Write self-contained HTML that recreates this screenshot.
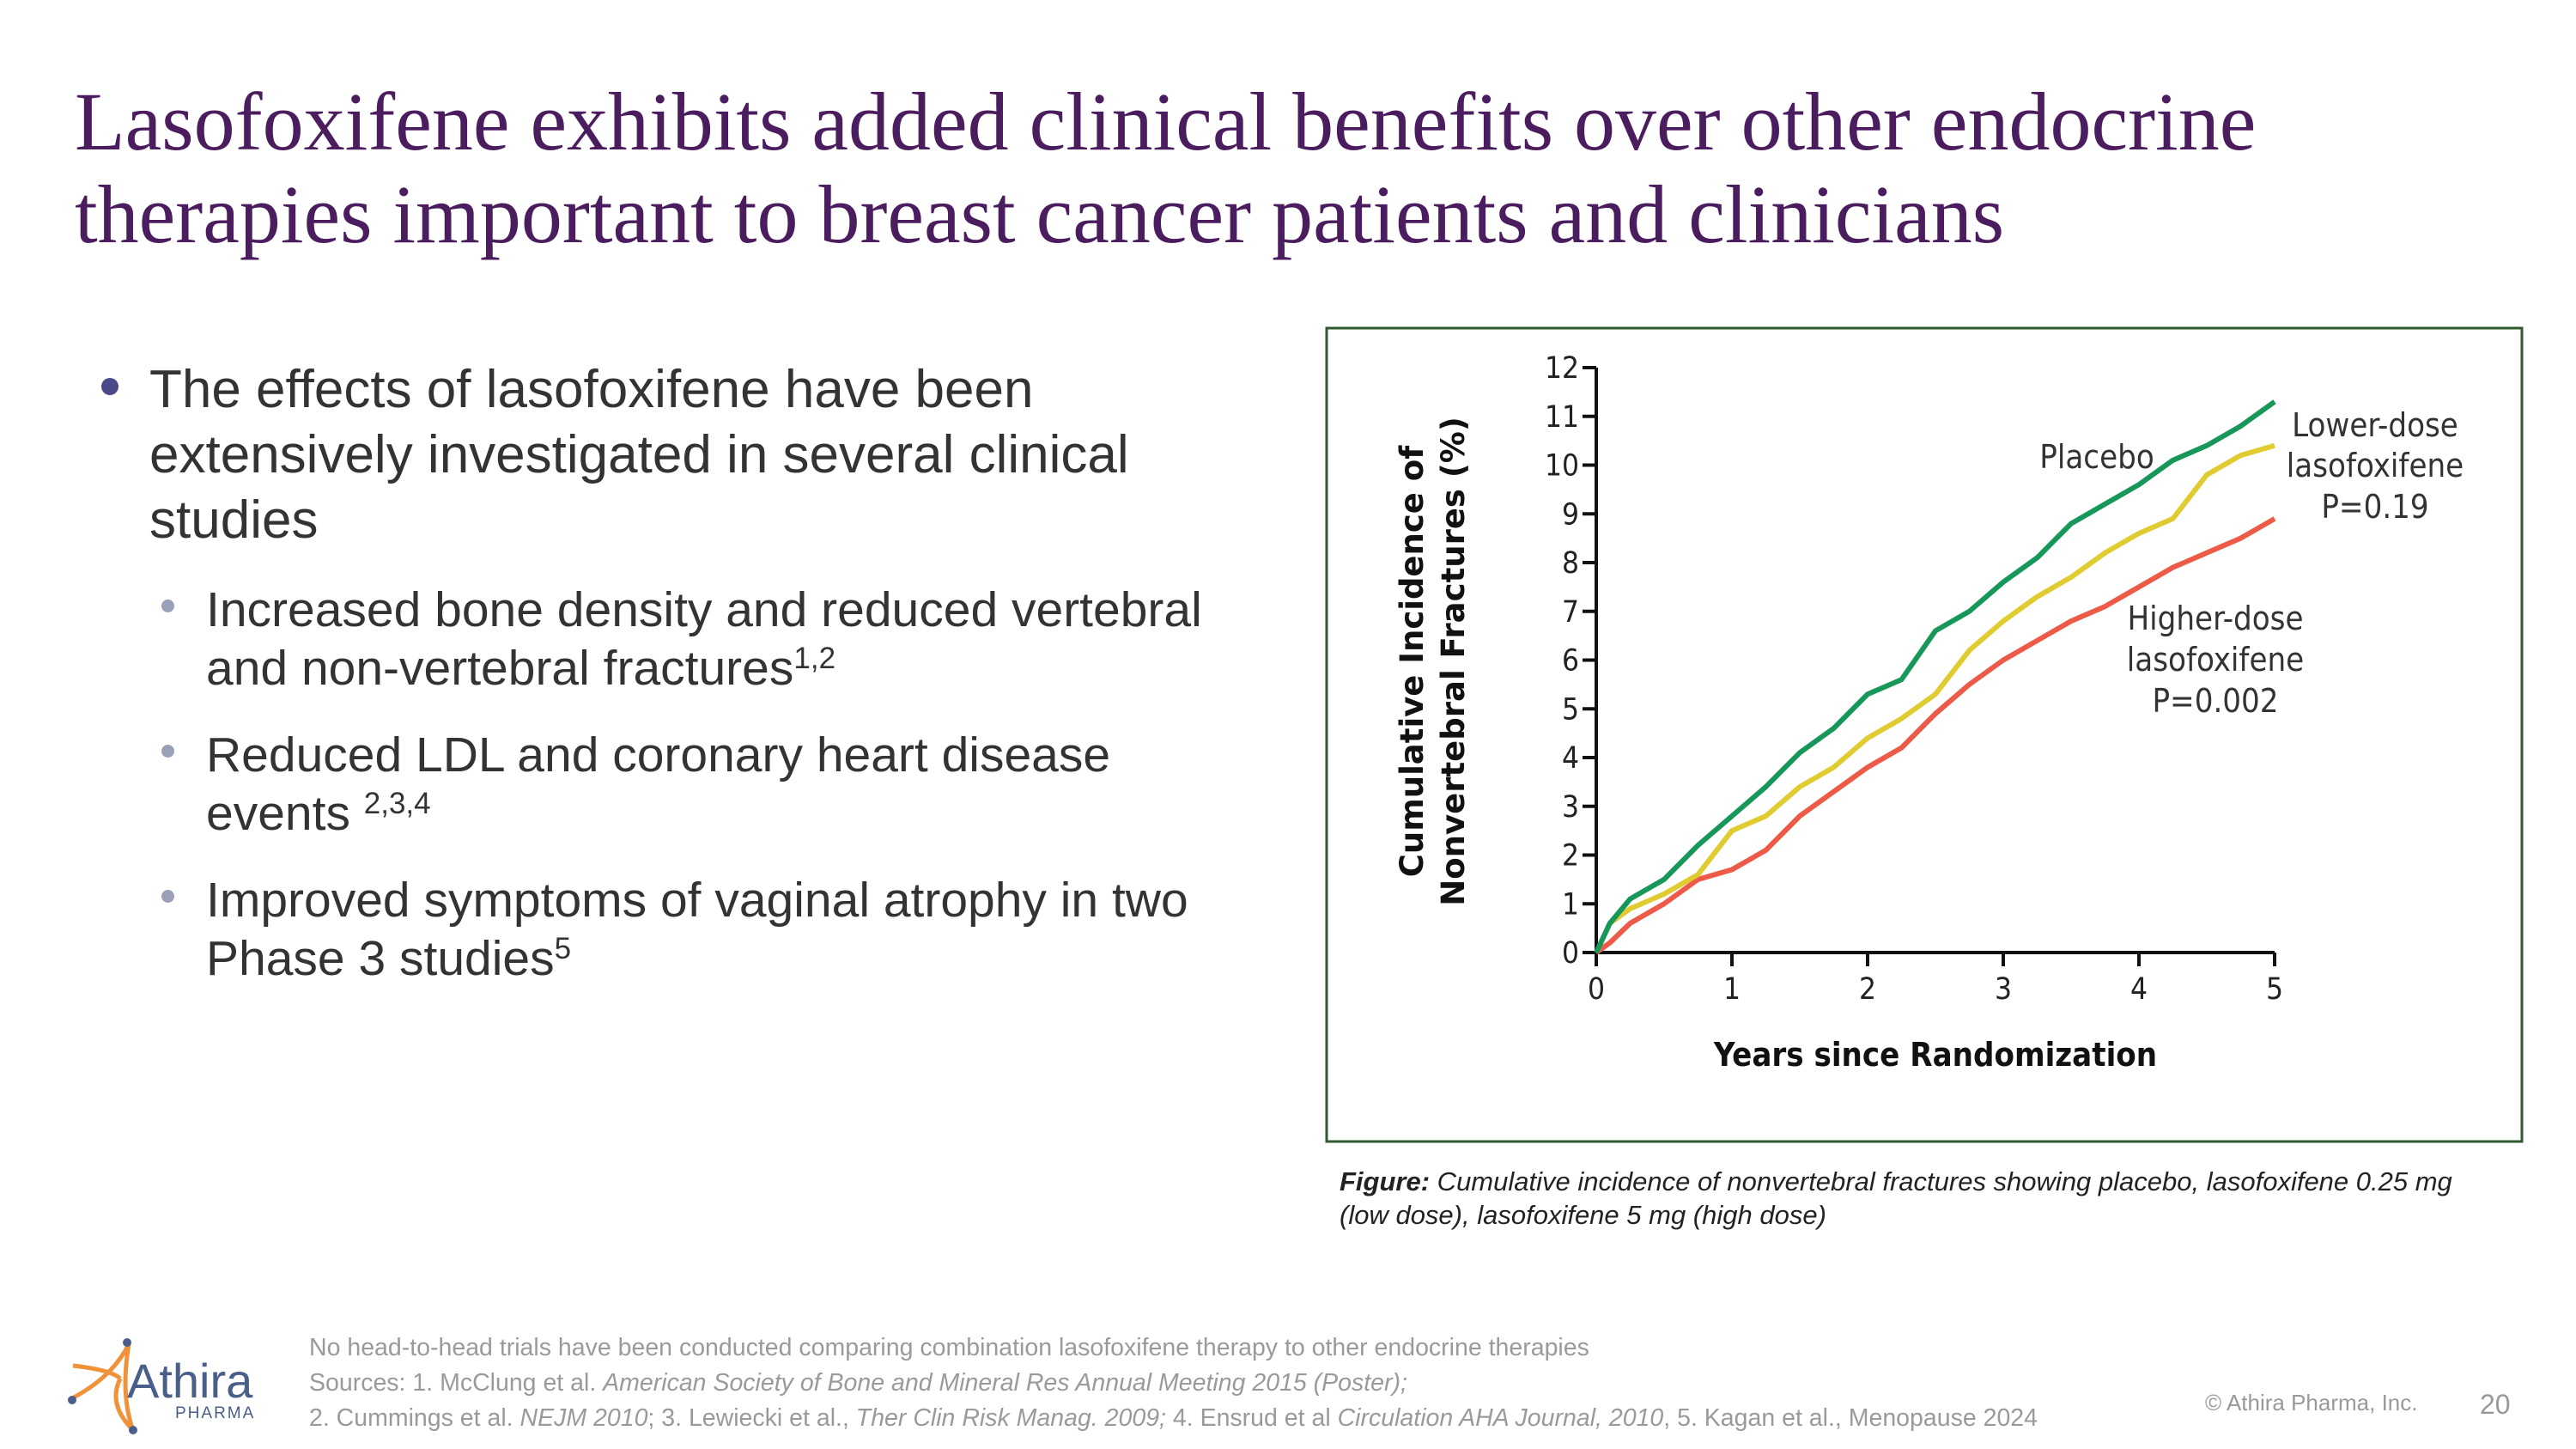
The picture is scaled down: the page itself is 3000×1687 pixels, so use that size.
<!DOCTYPE html>
<html><head><meta charset="utf-8">
<style>
html,body{margin:0;padding:0;background:#fff;}
body{width:3000px;height:1687px;position:relative;overflow:hidden;font-family:"Liberation Sans",sans-serif;}
.t{position:absolute;white-space:nowrap;}
sup{line-height:0;vertical-align:0;position:relative;top:-0.55em;}
</style></head>
<body>
<div class="t" style="left:87px;top:88px;font-family:'Liberation Serif',serif;font-size:96px;line-height:108px;color:#4b1d5e;">Lasofoxifene exhibits added clinical benefits over other endocrine<br>therapies important to breast cancer patients and clinicians</div>

<div>
<div class="t" style="left:118px;top:440px;width:20px;height:20px;border-radius:50%;background:#4a4a8a;"></div>
<div class="t" style="left:174px;top:416px;font-size:62px;line-height:76px;color:#333;">The effects of lasofoxifene have been<br>extensively investigated in several clinical<br>studies</div>
<div class="t" style="left:188px;top:698px;width:15px;height:15px;border-radius:50%;background:#9aa0b8;"></div>
<div class="t" style="left:240px;top:676px;font-size:57px;line-height:68px;color:#333;">Increased bone density and reduced vertebral<br>and non-vertebral fractures<sup style="font-size:35px">1,2</sup></div>
<div class="t" style="left:188px;top:867px;width:15px;height:15px;border-radius:50%;background:#9aa0b8;"></div>
<div class="t" style="left:240px;top:845px;font-size:57px;line-height:68px;color:#333;">Reduced LDL and coronary heart disease<br>events <sup style="font-size:35px">2,3,4</sup></div>
<div class="t" style="left:188px;top:1036px;width:15px;height:15px;border-radius:50%;background:#9aa0b8;"></div>
<div class="t" style="left:240px;top:1014px;font-size:57px;line-height:68px;color:#333;">Improved symptoms of vaginal atrophy in two<br>Phase 3 studies<sup style="font-size:35px">5</sup></div>
</div>

<svg style="position:absolute;left:0;top:0" width="3000" height="1687">
<rect x="1545" y="382" width="1392" height="947" fill="#fff" stroke="#2f5a2f" stroke-width="3"/>
<g id="axes"></g>
<g id="series"></g>
<text transform="translate(1665,770) rotate(-90)" text-anchor="middle" font-family="DejaVu Sans,sans-serif" font-weight="bold" font-size="37" fill="#111"><tspan x="0" dy="-8">Cumulative Incidence of</tspan><tspan x="0" dy="48">Nonvertebral Fractures (%)</tspan></text>
<text x="2254" y="1241" text-anchor="middle" font-family="DejaVu Sans Condensed,DejaVu Sans,sans-serif" font-weight="bold" font-size="38" fill="#111">Years since Randomization</text>
<text x="2442" y="545" text-anchor="middle" font-family="DejaVu Sans Condensed,DejaVu Sans,sans-serif" font-size="38" fill="#333">Placebo</text>
<text text-anchor="middle" font-family="DejaVu Sans Condensed,DejaVu Sans,sans-serif" font-size="38" fill="#333"><tspan x="2766" y="508">Lower-dose</tspan><tspan x="2766" y="555">lasofoxifene</tspan><tspan x="2766" y="603">P=0.19</tspan></text>
<text text-anchor="middle" font-family="DejaVu Sans Condensed,DejaVu Sans,sans-serif" font-size="38" fill="#333"><tspan x="2580" y="733">Higher-dose</tspan><tspan x="2580" y="781">lasofoxifene</tspan><tspan x="2580" y="829">P=0.002</tspan></text>
</svg>

<div class="t" style="left:1560px;top:1356px;font-size:31px;line-height:39px;color:#222;font-style:italic;"><b>Figure:</b> Cumulative incidence of nonvertebral fractures showing placebo, lasofoxifene 0.25 mg<br>(low dose), lasofoxifene 5 mg (high dose)</div>

<div class="t" style="left:360px;top:1549px;font-size:28.5px;line-height:41px;color:#9a9a9a;">No head-to-head trials have been conducted comparing combination lasofoxifene therapy to other endocrine therapies<br>Sources: 1. McClung et al. <i>American Society of Bone and Mineral Res Annual Meeting 2015 (Poster);</i><br>2. Cummings et al. <i>NEJM 2010</i>; 3. Lewiecki et al., <i>Ther Clin Risk Manag. 2009;</i> 4. Ensrud et al <i>Circulation AHA Journal, 2010</i>, 5. Kagan et al., Menopause 2024</div>
<div class="t" style="left:2568px;top:1618px;font-size:26px;color:#999;">© Athira Pharma, Inc.</div>
<div class="t" style="left:2888px;top:1617px;font-size:32px;color:#999;">20</div>

<svg style="position:absolute;left:70px;top:1545px" width="240" height="130">
<path d="M80 20 Q70 80 85 120 M15 45 Q60 50 70 60 M10 85 Q60 60 80 20 M70 60 Q55 90 85 120" stroke="#f0923a" stroke-width="5" fill="none"/>
<circle cx="78" cy="18" r="5" fill="#4a5e8a"/><circle cx="14" cy="85" r="5" fill="#4a5e8a"/><circle cx="85" cy="120" r="5" fill="#4a5e8a"/>
<text x="78" y="82" font-family="Liberation Sans,sans-serif" font-size="56" fill="#4a5e8a">Athira</text>
<text x="134" y="106" font-family="Liberation Sans,sans-serif" font-size="19" letter-spacing="2" fill="#4a5e8a">PHARMA</text>
</svg>

<script>
const years = [0,0.1,0.25,0.5,0.75,1,1.25,1.5,1.75,2,2.25,2.5,2.75,3,3.25,3.5,3.75,4,4.25,4.5,4.75,5];
const placebo = [0,0.6,1.1,1.5,2.2,2.8,3.4,4.1,4.6,5.3,5.6,6.6,7.0,7.6,8.1,8.8,9.2,9.6,10.1,10.4,10.8,11.3];
const lowDose = [0,0.6,0.9,1.2,1.6,2.5,2.8,3.4,3.8,4.4,4.8,5.3,6.2,6.8,7.3,7.7,8.2,8.6,8.9,9.8,10.2,10.4];
const highDose = [0,0.2,0.6,1.0,1.5,1.7,2.1,2.8,3.3,3.8,4.2,4.9,5.5,6.0,6.4,6.8,7.1,7.5,7.9,8.2,8.5,8.9];
const xTicks = [0,1,2,3,4,5];
const yTicks = [0,1,2,3,4,5,6,7,8,9,10,11,12];
const NS='http://www.w3.org/2000/svg';
const X0=1859,X1=2649,Y0=1109,Y1=428;
function xs(v){return X0+(v-0)/(5-0)*(X1-X0);}
function ys(v){return Y0-(v-0)/(12-0)*(Y0-Y1);}
const axes=document.getElementById('axes'), series=document.getElementById('series');
function mk(tag,attrs,parent){const e=document.createElementNS(NS,tag);for(const k in attrs)e.setAttribute(k,attrs[k]);parent.appendChild(e);return e;}
let l=mk('line',{x1:X0,y1:Y0,x2:X1,y2:Y0,stroke:'#111','stroke-width':4},axes);


l=mk('line',{x1:X0,y1:Y0,x2:X0,y2:Y1,stroke:'#111','stroke-width':4},axes);


xTicks.forEach(t=>{
  const tk=mk('line',{x1:xs(t),y1:Y0,x2:xs(t),y2:Y0+16,stroke:'#111','stroke-width':4},axes);
  
  
  const tx=mk('text',{x:xs(t),y:Y0+54,'text-anchor':'middle','font-family':'DejaVu Sans Condensed,DejaVu Sans,sans-serif','font-size':35,fill:'#222'},axes);
  tx.textContent=t;
  
  
});
yTicks.forEach(t=>{
  const tk=mk('line',{x1:X0-16,y1:ys(t),x2:X0,y2:ys(t),stroke:'#111','stroke-width':4},axes);
  
  
  const tx=mk('text',{x:X0-20,y:ys(t)+12,'text-anchor':'end','font-family':'DejaVu Sans Condensed,DejaVu Sans,sans-serif','font-size':35,fill:'#222'},axes);
  tx.textContent=t;
  
  
});
function draw(vals,color,name){
  const pts=years.map((y,i)=>xs(y)+','+ys(vals[i])).join(' ');
  const p=mk('polyline',{points:pts,fill:'none',stroke:color,'stroke-width':6,'stroke-linejoin':'round'},series);
  
  
}
draw(highDose,'#ee5a48','line-higher-dose');
draw(lowDose,'#e0cc30','line-lower-dose');
draw(placebo,'#17985a','line-placebo');
</script>
</body></html>
